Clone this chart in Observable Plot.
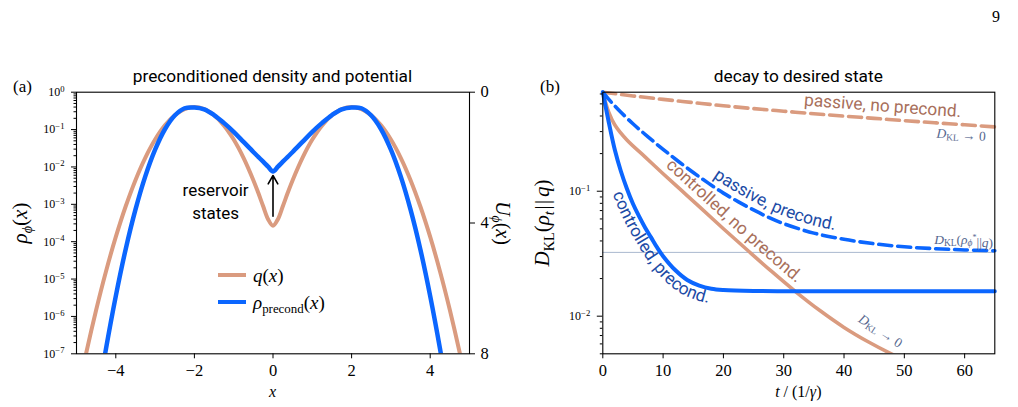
<!DOCTYPE html>
<html>
<head>
<meta charset="utf-8">
<script src="https://cdn.jsdelivr.net/npm/d3@7"></script>
<script src="https://cdn.jsdelivr.net/npm/@observablehq/plot@0.6"></script>
<style>
  html, body { margin: 0; padding: 0; background: #fff; }
  #fig { position: relative; width: 1018px; height: 407px; overflow: hidden; font-family: "Liberation Serif", serif; color: #000; }
  #fig svg { position: absolute; top: 0; }
  .t { position: absolute; white-space: nowrap; line-height: 1; }
  .c { transform: translate(-50%, -50%); }
  .sans { font-family: Roboto, sans-serif; }
  .sub { font-size: 0.68em; position: relative; top: 0.32em; }
  .bars { letter-spacing: 0.06em; margin: 0 0.08em; }
  .swatch { position: absolute; height: 0; }
</style>
</head>
<body>
<div id="fig"></div>
<script>
// ---------- (a) preconditioned density and potential ----------
const xGrid = [-5, -4.75, -4.5, -4.25, -4, -3.75, -3.5, -3.25, -3, -2.75, -2.5, -2.25, -2, -1.75, -1.5, -1.25, -1, -0.75, -0.5, -0.375, -0.25, -0.125, 0,
  0.125, 0.25, 0.375, 0.5, 0.75, 1, 1.25, 1.5, 1.75, 2, 2.25, 2.5, 2.75, 3, 3.25, 3.5, 3.75, 4, 4.25, 4.5, 4.75, 5];
const qTarget = [6.0e-9, 1.08e-7, 1.49e-6, 1.60e-5, 1.34e-4, 8.73e-4, 4.43e-3, 1.75e-2, 5.40e-2, 0.1295, 0.242, 0.352, 0.399, 0.352, 0.242, 0.1295, 0.0540, 0.01751, 0.00443, 0.00203, 0.000889, 0.000400, 0.000268,
  0.000400, 0.000889, 0.00203, 0.00443, 0.01751, 0.0540, 0.1295, 0.242, 0.352, 0.399, 0.352, 0.242, 0.1295, 5.40e-2, 1.75e-2, 4.43e-3, 8.73e-4, 1.34e-4, 1.60e-5, 1.49e-6, 1.08e-7, 6.0e-9];
const rhoPrecond = [6.3e-13, 5.9e-11, 3.5e-9, 1.35e-7, 3.5e-6, 6.2e-5, 7.2e-4, 5.6e-3, 2.9e-2, 0.102, 0.238, 0.372, 0.389, 0.347, 0.245, 0.151, 0.0871, 0.0468, 0.0251, 0.0186, 0.0138, 0.0102, 0.0076,
  0.0102, 0.0138, 0.0186, 0.0251, 0.0468, 0.0871, 0.151, 0.245, 0.347, 0.389, 0.372, 0.238, 0.102, 2.9e-2, 5.6e-3, 7.2e-4, 6.2e-5, 3.5e-6, 1.35e-7, 3.5e-9, 5.9e-11, 6.3e-13];
const xTicks = [-4, -2, 0, 2, 4];
const densityDecades = [1, 1e-1, 1e-2, 1e-3, 1e-4, 1e-5, 1e-6, 1e-7];
const potentialTicks = [0, 4, 8];          // U_phi on the right axis, 0 at the top, 8 at the bottom
const reservoirArrow = [{x: 0, from: 4.8e-4, to: 5.9e-3}];
const reservoirNote = [{x: -1.46, y: 1.26e-3, label: "reservoir\nstates"}];

// ---------- (b) decay to desired state ----------
const tPassive = [0, 5, 10, 15, 20, 25, 30, 35, 40, 45, 50, 55, 60, 65];
const klPassiveNoPrecond = [0.62, 0.579, 0.543, 0.512, 0.483, 0.458, 0.437, 0.417, 0.399, 0.383, 0.367, 0.353, 0.340, 0.327];
const tPassivePrecond = [0, 1, 2, 3, 5, 7.5, 10, 12.5, 15, 17.5, 20, 22.5, 25, 27.5, 30, 35, 40, 45, 50, 55, 60, 65];
const klPassivePrecond = [0.62, 0.543, 0.481, 0.4286, 0.3467, 0.2723, 0.2163, 0.1738, 0.1413, 0.1161, 0.0966, 0.0822, 0.0708, 0.0617, 0.0550, 0.0462, 0.0412, 0.0380, 0.0359, 0.0347, 0.0339, 0.0334];
const tControlled = [0, 1, 2, 4, 7, 10, 13, 16, 20, 24, 28, 32, 36, 40, 44, 48, 50];
const klControlledNoPrecond = [0.62, 0.4266, 0.3388, 0.2570, 0.1884, 0.1380, 0.1019, 0.0752, 0.0501, 0.0337, 0.0228, 0.01567, 0.01109, 0.00813, 0.00624, 0.00495, 0.00447];
const tControlledPrecond = [0, 1, 2, 3, 4, 5, 6, 7, 8, 9, 10, 12, 14, 16, 18, 20, 25, 30, 40, 50, 65];
const klControlledPrecond = [0.62, 0.3548, 0.2138, 0.1445, 0.1047, 0.0794, 0.0631, 0.0513, 0.0427, 0.0355, 0.0302, 0.0234, 0.0195, 0.01758, 0.0166, 0.01622, 0.01592, 0.01585, 0.01585, 0.01585, 0.01585];
const klFloor = 0.0324;                    // D_KL(rho_phi* || q)
const tTicks = [0, 10, 20, 30, 40, 50, 60];
const klDecades = [1e-1, 1e-2];

const ORANGE = "#da9b7f", BLUE = "#0b66ff", BROWN_TXT = "#a86f5b", BLUE_TXT = "#1c4ba6", NOTE = "#56688f", FLOOR = "#a9b8cf";
const SERIF = "Liberation Serif, serif";
const NS = "http://www.w3.org/2000/svg";
const fig = document.getElementById("fig");

const logMinor = (lo, hi) => d3.range(lo, hi).flatMap(k => d3.range(2, 10).map(m => m * 10 ** k));
const decadeLabel = d => "10^" + Math.round(Math.log10(d));
const baseStyle = {fontFamily: SERIF, fontSize: "16px", background: "transparent", color: "#000", overflow: "visible"};

// turn "10^k" tick texts into 10 with a raised exponent
function raiseExponents(svg) {
  svg.querySelectorAll("text").forEach(t => {
    const m = /^10\^(-?\d+)$/.exec(t.textContent);
    if (!m) return;
    t.textContent = "";
    const base = document.createElementNS(NS, "tspan");
    base.textContent = "10";
    const sup = document.createElementNS(NS, "tspan");
    sup.textContent = m[1].replace("-", "\u2212");
    sup.setAttribute("dy", "-0.5em");
    sup.setAttribute("font-size", "0.72em");
    t.append(base, sup);
  });
}

const densityRows = xGrid.map((x, i) => ({x, q: qTarget[i], rho: rhoPrecond[i]}));
const potentialAt = u => 10 ** (-7 * u / 8);

const plotA = Plot.plot({
  width: 520, height: 407,
  marginLeft: 76, marginRight: 51, marginTop: 91.7, marginBottom: 53.7,
  style: baseStyle,
  x: {domain: [-5, 5]},
  y: {type: "log", domain: [1e-7, 1]},
  marks: [
    Plot.line(densityRows, {x: "x", y: "q", stroke: ORANGE, strokeWidth: 4, curve: "catmull-rom", clip: true}),
    Plot.line(densityRows, {x: "x", y: "rho", stroke: BLUE, strokeWidth: 4.5, curve: "catmull-rom", clip: true}),
    Plot.arrow(reservoirArrow, {x1: "x", x2: "x", y1: "from", y2: "to", stroke: "#000", strokeWidth: 1.6, headLength: 9}),
    Plot.text(reservoirNote, {x: "x", y: "y", text: "label", fontFamily: "Roboto, sans-serif", fontSize: 17, lineHeight: 1.35, fill: "#000"}),
    Plot.axisX({ticks: xTicks, tickSize: 5, tickPadding: 5, fontSize: 16.5, fontFamily: SERIF, label: null}),
    Plot.axisY({ticks: densityDecades, tickSize: 5, tickPadding: 7, fontSize: 12, fontFamily: SERIF, tickFormat: decadeLabel, label: null}),
    Plot.axisY({ticks: logMinor(-7, 0), tickSize: 2.5, tickFormat: () => "", label: null}),
    Plot.axisY({anchor: "right", ticks: potentialTicks.map(potentialAt), tickSize: 5, tickFormat: () => "", label: null}),
    Plot.text(potentialTicks, {y: potentialAt, text: d => String(d), frameAnchor: "right", dx: 11, textAnchor: "start",
      fontSize: 16.5, fontFamily: SERIF, fill: "#000"}),
    Plot.frame({stroke: "#000", strokeWidth: 1.1})
  ]
});
plotA.style.left = "0px";
raiseExponents(plotA);
fig.appendChild(plotA);

const rows = (ts, vs) => ts.map((t, i) => ({t, kl: vs[i]}));
const passiveNoPrecond = rows(tPassive, klPassiveNoPrecond);
const passivePrecond = rows(tPassivePrecond, klPassivePrecond);
const controlledNoPrecond = rows(tControlled, klControlledNoPrecond);
const controlledPrecond = rows(tControlledPrecond, klControlledPrecond);

const plotB = Plot.plot({
  width: 498, height: 407,
  marginLeft: 82.3, marginRight: 23.7, marginTop: 91.7, marginBottom: 53.7,
  style: baseStyle,
  x: {domain: [0, 65]},
  y: {type: "log", domain: [0.005, 0.62]},
  marks: [
    Plot.ruleY([klFloor], {stroke: FLOOR, strokeWidth: 1}),
    Plot.line(passiveNoPrecond, {x: "t", y: "kl", stroke: ORANGE, strokeWidth: 3.6, strokeDasharray: "13,6", curve: "catmull-rom"}),
    Plot.line(controlledNoPrecond, {x: "t", y: "kl", stroke: ORANGE, strokeWidth: 3.6, curve: "catmull-rom", clip: true}),
    Plot.line(passivePrecond, {x: "t", y: "kl", stroke: BLUE, strokeWidth: 3.6, strokeDasharray: "13,6", curve: "catmull-rom"}),
    Plot.line(controlledPrecond, {x: "t", y: "kl", stroke: BLUE, strokeWidth: 4, curve: "catmull-rom"}),
    Plot.axisX({ticks: tTicks, tickSize: 5, tickPadding: 5, fontSize: 16.5, fontFamily: SERIF, label: null}),
    Plot.axisY({ticks: klDecades, tickSize: 5.5, tickPadding: 7, fontSize: 12, fontFamily: SERIF, tickFormat: decadeLabel, label: null}),
    Plot.axisY({ticks: logMinor(-3, 0).filter(d => d >= 0.005 && d <= 0.62), tickSize: 2.5, tickFormat: () => "", label: null}),
    Plot.frame({stroke: "#000", strokeWidth: 1.1})
  ]
});
plotB.style.left = "520px";
raiseExponents(plotB);
fig.appendChild(plotB);

// ---------- labels that run along the decay curves ----------
let guideCount = 0;
function labelAlongCurve(plot, data, text, {from, offset, fill, size = 17.3}) {
  const sx = plot.scale("x"), sy = plot.scale("y");
  const pts = data.map(d => [sx.apply(d.t), sy.apply(d.kl)]);
  const guide = document.createElementNS(NS, "path");
  guide.setAttribute("d", d3.line().curve(d3.curveCatmullRom)(pts));
  guide.setAttribute("fill", "none");
  plot.appendChild(guide);
  const total = guide.getTotalLength();
  const samples = [];
  for (let s = 0; s <= total; s += 1) { const p = guide.getPointAtLength(s); samples.push([p.x, p.y]); }
  guide.remove();
  const x0 = sx.apply(from);
  const start = Math.max(0, samples.findIndex(p => p[0] >= x0));
  const shifted = [];
  for (let i = start; i < samples.length; i++) {
    const a = samples[Math.max(0, i - 4)], b = samples[Math.min(samples.length - 1, i + 4)];
    let dx = b[0] - a[0], dy = b[1] - a[1];
    const l = Math.hypot(dx, dy) || 1;
    dx /= l; dy /= l;
    shifted.push([samples[i][0] + dy * offset, samples[i][1] - dx * offset]);
  }
  const id = "curve-label-" + (++guideCount);
  const path = document.createElementNS(NS, "path");
  path.setAttribute("id", id);
  path.setAttribute("d", d3.line()(shifted));
  path.setAttribute("fill", "none");
  const defs = document.createElementNS(NS, "defs");
  defs.appendChild(path);
  plot.appendChild(defs);
  const txt = document.createElementNS(NS, "text");
  txt.setAttribute("font-family", "Roboto, sans-serif");
  txt.setAttribute("font-size", size);
  txt.setAttribute("text-anchor", "start");
  txt.setAttribute("fill", fill);
  const tp = document.createElementNS(NS, "textPath");
  tp.setAttribute("href", "#" + id);
  tp.setAttribute("startOffset", "0");
  tp.textContent = text;
  txt.appendChild(tp);
  plot.appendChild(txt);
}
labelAlongCurve(plotB, passiveNoPrecond, "passive, no precond.", {from: 33.3, offset: 7, fill: BROWN_TXT});
labelAlongCurve(plotB, passivePrecond, "passive, precond.", {from: 17.6, offset: 7, fill: BLUE_TXT});
labelAlongCurve(plotB, controlledNoPrecond, "controlled, no precond.", {from: 9.6, offset: 7, fill: BROWN_TXT});
labelAlongCurve(plotB, controlledPrecond, "controlled, precond.", {from: 4, offset: -15, fill: BLUE_TXT});

// small D_KL annotations
function mathNote(plot, t, kl, parts, {anchor = "middle", rotate = 0, size = 13.5}) {
  const px = plot.scale("x").apply(t), py = plot.scale("y").apply(kl);
  const txt = document.createElementNS(NS, "text");
  txt.setAttribute("transform", `translate(${px},${py}) rotate(${rotate})`);
  txt.setAttribute("text-anchor", anchor);
  txt.setAttribute("dominant-baseline", "middle");
  txt.setAttribute("font-family", SERIF);
  txt.setAttribute("font-size", size);
  txt.setAttribute("fill", NOTE);
  for (const [s, style] of parts) {
    const sp = document.createElementNS(NS, "tspan");
    sp.textContent = s;
    if (style.includes("i")) sp.setAttribute("font-style", "italic");
    if (style.includes("sub")) { sp.setAttribute("font-size", size * 0.7); sp.setAttribute("dy", "0.3em"); }
    if (style.includes("up")) sp.setAttribute("dy", "-0.21em");
    if (style.includes("sup")) { sp.setAttribute("font-size", size * 0.6); sp.setAttribute("dy", "-0.7em"); }
    if (style.includes("back")) sp.setAttribute("dy", "0.42em");
    txt.appendChild(sp);
  }
  plot.appendChild(txt);
}
mathNote(plotB, 59.5, 0.272, [["D", "i"], ["KL", "sub"], [" \u2192 0", "up"]], {rotate: 3.6});
mathNote(plotB, 64.8, 0.0397, [["D", "i"], ["KL", "sub"], ["(", "up"], ["\u03c1", "i"], ["\u03d5", "i sub"], ["*", "sup"], ["||", "back"], ["q", "i"], [")", ""]], {anchor: "end"});
mathNote(plotB, 46.0, 0.00738, [["D", "i"], ["KL", "sub"], [" \u2192 0", "up"]], {rotate: 33});

// ---------- titles, axis labels, legend ----------
fig.insertAdjacentHTML("beforeend", `
  <div class="t" style="left:992px;top:9px;font-size:16px">9</div>
  <div class="t" style="left:13px;top:78px;font-size:17px">(a)</div>
  <div class="t" style="left:540px;top:78px;font-size:17px">(b)</div>
  <div class="t c sans" style="left:272.5px;top:77px;font-size:17.3px">preconditioned density and potential</div>
  <div class="t c sans" style="left:798.3px;top:77px;font-size:17.3px">decay to desired state</div>
  <div class="t" style="left:20px;top:222.5px;font-size:21px;transform:translate(-50%,-50%) rotate(-90deg)"><i>\u03c1</i><span class="sub"><i>\u03d5</i></span>(<i>x</i>)</div>
  <div class="t" style="left:503px;top:222.5px;font-size:20px;transform:translate(-50%,-50%) rotate(90deg)"><i>U</i><span class="sub"><i>\u03d5</i></span>(<i>x</i>)</div>
  <div class="t" style="left:542px;top:222.5px;font-size:21px;transform:translate(-50%,-50%) rotate(-90deg)"><i>D</i><span class="sub">KL</span>(<i>\u03c1</i><span class="sub"><i>t</i></span><span class="bars">||</span><i>q</i>)</div>
  <div class="t c" style="left:272.5px;top:392px;font-size:16px"><i>x</i></div>
  <div class="t c" style="left:798.3px;top:392px;font-size:16px"><i>t</i> / (1/<i>\u03b3</i>)</div>
  <div class="swatch" style="left:218px;top:273px;width:28px;border-top:4px solid ${ORANGE}"></div>
  <div class="swatch" style="left:218px;top:300px;width:28px;border-top:4.5px solid ${BLUE}"></div>
  <div class="t" style="left:253px;top:266px;font-size:19px"><i>q</i>(<i>x</i>)</div>
  <div class="t" style="left:253px;top:293px;font-size:19px"><i>\u03c1</i><span class="sub">precond</span>(<i>x</i>)</div>
`);
</script>
</body>
</html>
